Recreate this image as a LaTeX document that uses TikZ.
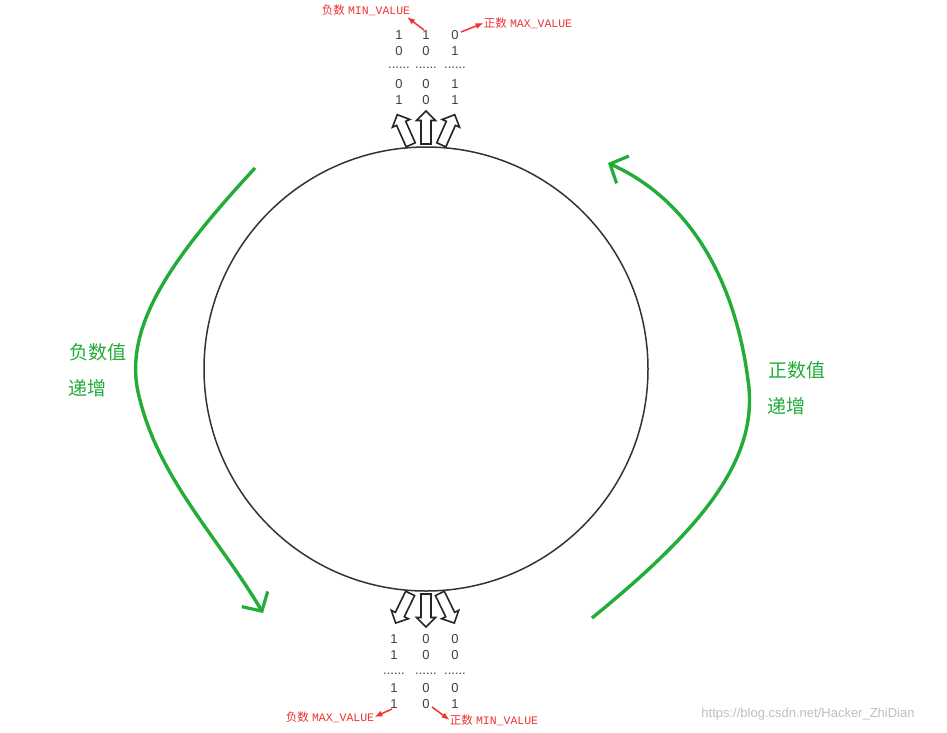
\documentclass[tikz,border=0pt]{standalone}
\usepackage{fontspec}
\setmainfont{Liberation Sans}
\newfontfamily\cjk{Noto Sans CJK SC}
\newfontfamily\monof{Liberation Mono}
\usetikzlibrary{arrows.meta,shapes.arrows}
\definecolor{gr}{RGB}{34,172,56}
\definecolor{rd}{RGB}{240,50,50}
\begin{document}
\begin{tikzpicture}[x=1pt,y=-1pt,
  dig/.style={font=\fontsize{13}{13}\selectfont,text=black!75,inner sep=0},
  rlab/.style={font=\fontsize{11.5}{11.5}\selectfont,text=rd,inner sep=0},
  glab/.style={font=\cjk\fontsize{19}{19}\selectfont,text=gr,inner sep=0},
  rarr/.style={-{Latex[length=8pt,width=6pt]},draw=rd,line width=1.5pt},
  garr/.style={-{Straight Barb[length=14pt,width=30pt,line width=3.2pt]},draw=gr,line width=3.4pt},
  fat/.style={single arrow,draw=black!85,line width=1.6pt,minimum width=19pt,minimum height=33pt,single arrow head extend=3pt,single arrow head indent=0pt,inner sep=2.5pt,fill=white}]
\useasboundingbox (0,0) rectangle (947,732);
\fill[white] (0,0) rectangle (947,732);
\node[circle,draw=black!80,line width=1.5pt,minimum size=444pt,inner sep=0] (c) at (426,369) {};
\node[fat,rotate=90] (t1) at (426,130) {};
\node[fat,rotate=114] (t0) at (405,132) {};
\node[fat,rotate=66] (t2) at (447,132) {};
\node[fat,rotate=-90] (b1) at (426,608) {};
\node[fat,rotate=-116] (b0) at (404,606) {};
\node[fat,rotate=-64] (b2) at (446,606) {};
\foreach \x/\a/\b/\c/\d in {399/1/0/0/1,426/1/0/0/0,455/0/1/1/1}{
 \node[dig] at (\x,35) {\a};
 \node[dig] at (\x,51) {\b};
 \node[dig] at (\x,68) {......};
 \node[dig] at (\x,84) {\c};
 \node[dig] at (\x,100) {\d};}
\foreach \x/\a/\b/\c/\d in {394/1/1/1/1,426/0/0/0/0,455/0/0/0/1}{
 \node[dig] at (\x,639) {\a};
 \node[dig] at (\x,655) {\b};
 \node[dig] at (\x,674) {......};
 \node[dig] at (\x,688) {\c};
 \node[dig] at (\x,704) {\d};}
\node[rlab] (l1) at (366,10) {{\cjk 负数} {\monof MIN\_VALUE}};
\node[rlab] (l2) at (528,23) {{\cjk 正数} {\monof MAX\_VALUE}};
\node[rlab] (l3) at (330,717) {{\cjk 负数} {\monof MAX\_VALUE}};
\node[rlab] (l4) at (494,720) {{\cjk 正数} {\monof MIN\_VALUE}};
\coordinate (s1) at (424,30); \draw[rarr] (s1) -- (407,17);
\coordinate (s2) at (461,32); \draw[rarr] (s2) -- (l2.west);
\coordinate (s3) at (392,709); \draw[rarr] (s3) -- (l3.east);
\coordinate (s4) at (432,707); \draw[rarr] (s4) -- (l4.west);
\coordinate (ga) at (255,168); \coordinate (gb) at (263,613);
\draw[garr] (ga) .. controls (170,260) and (120,330) .. (140,400) .. controls (160,480) and (220,540) .. (gb);
\coordinate (gc) at (592,618); \coordinate (gd) at (608,163);
\draw[garr] (gc) .. controls (700,530) and (760,460) .. (748,380) .. controls (735,280) and (690,200) .. (gd);
\node[glab] at (98,352) {负数值};
\node[glab] at (87,388) {递增};
\node[glab] at (797,370) {正数值};
\node[glab] at (786,406) {递增};
\node[font=\fontsize{13}{13}\selectfont,text=black!25] at (808,714) {https://blog.csdn.net/Hacker\_ZhiDian};
\end{tikzpicture}
\end{document}
